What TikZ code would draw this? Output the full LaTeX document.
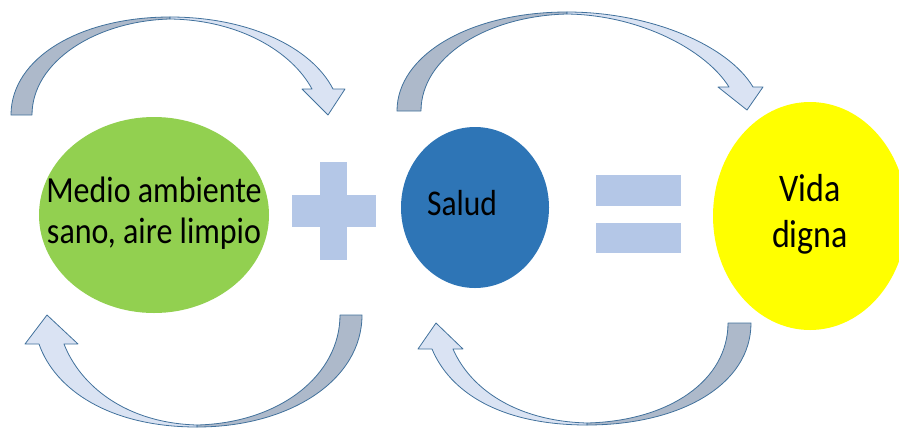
\documentclass[tikz,border=0pt]{standalone}
\usepackage{fontspec}
\setmainfont{Carlito}
\usetikzlibrary{shapes.geometric}

\definecolor{verde}{HTML}{92D050}
\definecolor{azul}{HTML}{2E75B6}
\definecolor{amarillo}{HTML}{FFFF00}
\definecolor{signo}{HTML}{B4C7E7}
\definecolor{bordeflecha}{HTML}{41719C}
\definecolor{flechaosc}{HTML}{ADB9CA}
\definecolor{flechaclara}{HTML}{DAE3F3}

\newcommand{\alto}[1]{\scalebox{1}[1.15]{\begin{tabular}{@{}c@{}}#1\end{tabular}}}

\begin{document}
\begin{tikzpicture}[x=1pt,y=-1pt,
  globo/.style={ellipse, inner sep=0pt},
  texto/.style={inner sep=0pt, align=center},
  lomo/.style={fill=flechaosc, draw=bordeflecha, line width=0.8pt, line join=round},
  frente/.style={fill=flechaclara, draw=bordeflecha, line width=0.8pt, line join=round}]
\useasboundingbox (0,0) rectangle (899,429);

% los tres globos
\node[globo, fill=verde, minimum width=230pt, minimum height=196pt] (medio) at (154,215) {};
\node[globo, fill=azul, minimum width=148pt, minimum height=161pt] (salud) at (475,207.5) {};
\node[globo, fill=amarillo, minimum width=194pt, minimum height=228pt] (vida) at (810,216) {};

\node[texto, font=\fontsize{32}{35}\selectfont] (tmedio) at (medio.center) {\alto{Medio ambiente\\ sano, aire limpio}};
\node[texto, font=\fontsize{31.5}{35}\selectfont] (tsalud) at ([xshift=-13pt]salud.center) {\alto{Salud}};
\node[texto, font=\fontsize{34}{40}\selectfont] (tvida) at ([yshift=1pt]vida.center) {\alto{Vida\\ digna}};

% signos + y =
\fill[signo] (292,195) rectangle (376,227);
\fill[signo] (320,162) rectangle (347,260);
\fill[signo] (596,175) rectangle (681,206);
\fill[signo] (596,223) rectangle (681,253);

% flecha arriba izquierda
\filldraw[lomo] (11,115) .. controls (11,58) and (80,17) .. (170,17) -- (170,19) .. controls (95,21) and (32,62) .. (32,115) -- cycle;
\filldraw[frente] (170,17) .. controls (250,17) and (312,48) .. (333,89) -- (345,89) -- (328,115) -- (302,89) -- (312,89) .. controls (292,52) and (240,20) .. (170,19) -- cycle;

% flecha arriba derecha
\filldraw[lomo] (397,111) .. controls (397,55) and (470,12) .. (567,12) -- (567,14) .. controls (485,16) and (421,58) .. (421,111) -- cycle;
\filldraw[frente] (567,12) .. controls (650,12) and (728,45) .. (753,87) -- (763,87) -- (747,110) -- (718,87) -- (729,87) .. controls (706,50) and (640,15) .. (567,14) -- cycle;

% flecha abajo izquierda
\filldraw[lomo] (362,315) .. controls (362,380) and (290,427) .. (197,427) -- (197,425) .. controls (280,423) and (340,375) .. (340,315) -- cycle;
\filldraw[frente] (197,427) .. controls (110,427) and (55,390) .. (39,344) -- (25,344) -- (47,315) -- (78,344) -- (64,344) .. controls (80,385) and (125,423) .. (197,425) -- cycle;

% flecha abajo derecha
\filldraw[lomo] (751,323) .. controls (751,385) and (680,425) .. (587,425) -- (587,423) .. controls (670,421) and (728,380) .. (728,323) -- cycle;
\filldraw[frente] (587,425) .. controls (500,425) and (450,392) .. (432,349) -- (418,349) -- (436,323) -- (463,349) -- (453,349) .. controls (470,388) and (515,421) .. (587,423) -- cycle;
\end{tikzpicture}
\end{document}
